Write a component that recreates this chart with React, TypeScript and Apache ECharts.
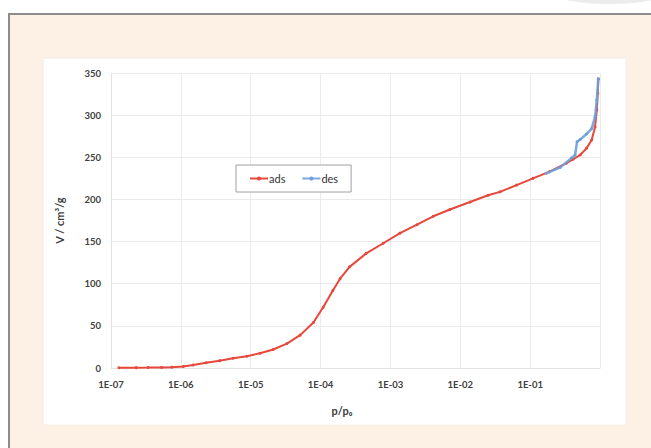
import React, { useEffect, useRef } from "react";
import * as echarts from "echarts";

const xTickLabels = ["1E-07", "1E-06", "1E-05", "1E-04", "1E-03", "1E-02", "1E-01"];
const yTicks = [0, 50, 100, 150, 200, 250, 300, 350];

const adsP = [1.3e-7, 2.3e-7, 3.4e-7, 5.3e-7, 7.4e-7, 1.08e-6, 1.5e-6, 2.3e-6, 3.6e-6, 5.6e-6, 8.8e-6, 1.36e-5, 2.1e-5, 3.3e-5, 5.1e-5, 7.9e-5, 1.09e-4, 1.5e-4, 1.9e-4, 2.6e-4, 4.5e-4, 7.9e-4, 1.37e-3, 2.4e-3, 4.1e-3, 7.1e-3, 0.0138, 0.025, 0.037, 0.064, 0.11, 0.19, 0.33, 0.41, 0.52, 0.64, 0.76, 0.85, 0.9, 0.93, 0.945];
const adsV = [0.3, 0.4, 0.5, 0.7, 1.0, 1.8, 3.5, 6.3, 8.7, 11.5, 14, 17.5, 22, 29, 39, 54, 72, 92, 106, 120, 136, 148, 160, 170, 180, 188, 197, 205, 209, 217, 225, 233, 243, 247.6, 252.7, 260.6, 270.5, 286, 306, 326, 343];

const desP = [0.17, 0.27, 0.39, 0.44, 0.47, 0.52, 0.64, 0.76, 0.85, 0.9, 0.945];
const desV = [231, 238, 249, 252.7, 268.5, 271, 277.6, 284, 298, 318, 343];

const labelFont = "Lato, 'Liberation Sans', 'DejaVu Sans', sans-serif";

export default function App() {
  const ref = useRef<HTMLDivElement>(null);
  useEffect(() => {
    if (!ref.current) return;
    const chart = echarts.init(ref.current, undefined, { renderer: "svg" });
    const fmt = (v: number) => {
      const e = Math.round(Math.log10(v));
      const idx = e + 7;
      return idx >= 0 && idx < xTickLabels.length ? xTickLabels[idx] : "";
    };
    chart.setOption({
      animation: false,
      backgroundColor: "#ffffff",
      graphic: [
        { type: "ellipse", shape: { cx: 610, cy: -14, rx: 70, ry: 18 }, style: { fill: "#ececec" }, z: -10 },
        { type: "rect", shape: { x: 9, y: 14, width: 660, height: 460 }, style: { fill: "#fdf0e4", stroke: "#8c8c8c", lineWidth: 2 }, z: -9 },
        { type: "rect", shape: { x: 43, y: 58, width: 583, height: 367 }, style: { fill: "#ffffff", stroke: "#f3ede6", lineWidth: 1 }, z: -8 },
        { type: "text", x: 342, y: 410, style: { text: "p/p₀", font: `bold 11px ${labelFont}`, fill: "#404040", align: "center", verticalAlign: "middle" }, z: 5 }
      ],
      grid: { left: 111, right: 51, top: 73, bottom: 80 },
      legend: {
        left: 236, top: 165,
        orient: "horizontal",
        borderColor: "#a0a0a0", borderWidth: 1,
        padding: [8, 13, 8, 13],
        itemGap: 16, itemWidth: 18, itemHeight: 5,
        backgroundColor: "#ffffff",
        textStyle: { fontSize: 11, color: "#333", fontFamily: labelFont, padding: [0, 0, 0, -4] },
        data: ["ads", "des"]
      },
      xAxis: {
        type: "log", logBase: 10, min: 1e-7, max: 1,
        axisLine: { show: true, lineStyle: { color: "#e2e2e2" } },
        axisTick: { show: false },
        splitLine: { show: true, lineStyle: { color: "#ebebeb" } },
        axisLabel: { formatter: fmt, showMaxLabel: false, color: "#404040", fontWeight: "bold", fontSize: 9.5, fontFamily: labelFont, margin: 11 }
      },
      yAxis: {
        type: "value", min: 0, max: 350, interval: 50,
        name: "V / cm³/g", nameLocation: "middle", nameGap: 46,
        nameTextStyle: { color: "#404040", fontWeight: "bold", fontSize: 11, fontFamily: labelFont },
        axisLine: { show: true, lineStyle: { color: "#e2e2e2" } },
        axisTick: { show: false },
        splitLine: { show: true, lineStyle: { color: "#ebebeb" } },
        axisLabel: { color: "#404040", fontWeight: "bold", fontSize: 9.5, fontFamily: labelFont, margin: 10, customValues: yTicks }
      },
      series: [
        {
          name: "ads", type: "line",
          data: adsP.map((p, i) => [p, adsV[i]]),
          color: "#e8473b",
          lineStyle: { width: 2, color: "#e8473b" },
          symbol: "circle", symbolSize: 3,
          itemStyle: { color: "#e8473b" },
          z: 3
        },
        {
          name: "des", type: "line",
          data: desP.map((p, i) => [p, desV[i]]),
          color: "#6d9ed9",
          lineStyle: { width: 2.5, color: "#6d9ed9", opacity: 0.9 },
          symbol: "circle", symbolSize: 3,
          itemStyle: { color: "#6d9ed9" },
          z: 4
        }
      ]
    });
    return () => chart.dispose();
  }, []);
  return <div ref={ref} style={{ position: "fixed", left: 0, top: 0, width: 651, height: 448 }} />;
}
